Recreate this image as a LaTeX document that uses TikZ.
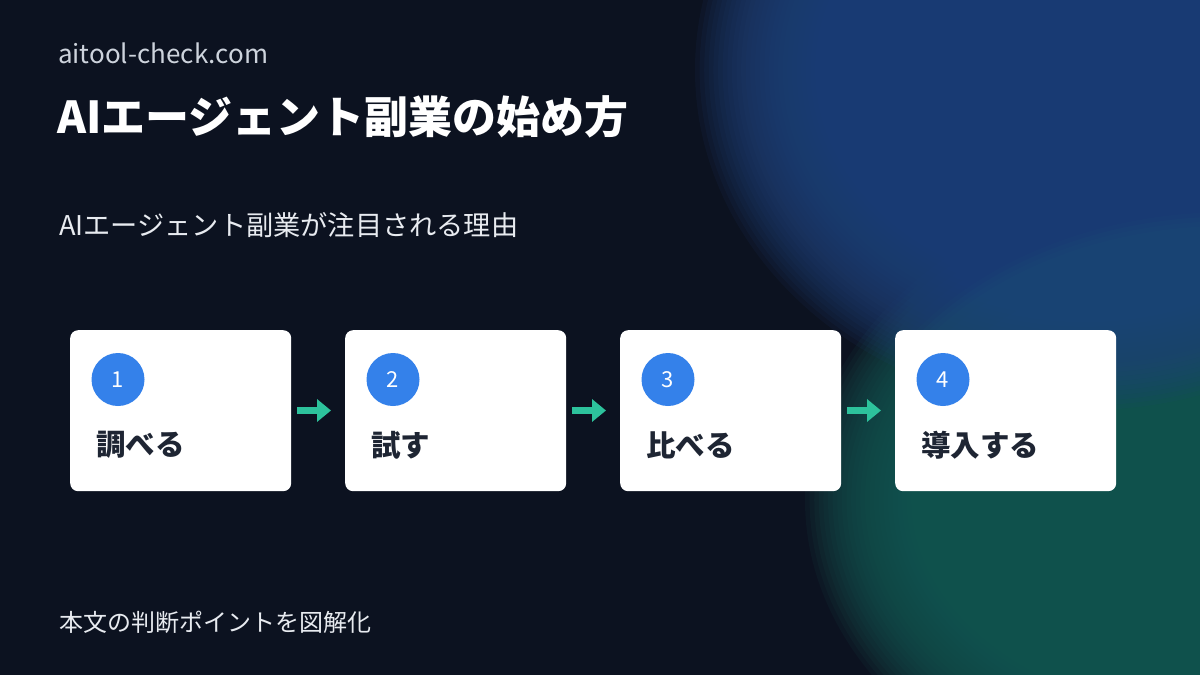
\documentclass[tikz,border=0pt]{standalone}
\usepackage{fontspec}
\setmainfont{Noto Sans CJK JP}
\usetikzlibrary{arrows.meta,positioning}
\definecolor{bg}{HTML}{0C1220}
\definecolor{blobblue}{HTML}{21437C}
\definecolor{blobgreen}{HTML}{185A55}
\definecolor{stepblue}{HTML}{3481EA}
\definecolor{arrowgreen}{HTML}{2DC29C}
\definecolor{labeldark}{HTML}{1E2533}
\definecolor{softgray}{HTML}{CDD3DC}
\definecolor{softwhite}{HTML}{E8EBF0}
\tikzset{
  card/.style={fill=white, rounded corners=8pt, minimum width=221pt, minimum height=161pt, inner sep=0pt},
  badge/.style={circle, fill=stepblue, minimum size=53pt, inner sep=0pt, text=white, font=\fontsize{22pt}{24pt}\selectfont},
  steplabel/.style={anchor=west, text=labeldark, font=\fontsize{29.5pt}{32pt}\selectfont\bfseries, inner sep=0pt},
  flow/.style={draw=arrowgreen, line width=7pt, -{Triangle[length=14pt,width=22pt]}},
  bloblayer/.style={fill=#1, opacity=0.1},
}
\begin{document}
\begin{tikzpicture}[x=1pt,y=-1pt]
\useasboundingbox (0,0) rectangle (1200,675);
\fill[bg] (0,0) rectangle (1200,675);
\begin{scope}
\clip (0,0) rectangle (1200,675);
\foreach \k in {0,...,39}{
  \pgfmathsetmacro\dd{45-180*\k/39}
  \pgfmathsetmacro\rx{380+\dd}
  \pgfmathsetmacro\ry{280+\dd}
  \fill[bloblayer=blobgreen] (1230,500) ellipse [x radius=\rx pt, y radius=\ry pt];
}
\foreach \k in {0,...,39}{
  \pgfmathsetmacro\dd{45-180*\k/39}
  \pgfmathsetmacro\rx{345+\dd}
  \pgfmathsetmacro\ry{295+\dd}
  \fill[bloblayer=blobblue] (1085,70) ellipse [x radius=\rx pt, y radius=\ry pt];
}
\end{scope}
\node[anchor=base west, inner sep=0pt, text=softgray, font=\fontsize{26pt}{28pt}\selectfont] (site) at (58,63) {aitool-check.com};
\node[anchor=base west, inner sep=0pt, text=white, font=\fontsize{44pt}{48pt}\selectfont\bfseries] (title) at (57,133) {AIエージェント副業の始め方};
\node[anchor=base west, inner sep=0pt, text=softwhite, font=\fontsize{27.2pt}{30pt}\selectfont] (sub) at (59,235) {AIエージェント副業が注目される理由};
\node[anchor=base west, inner sep=0pt, text=softwhite, font=\fontsize{24pt}{28pt}\selectfont] (foot) at (59,631) {本文の判断ポイントを図解化};
\foreach \i/\x/\t in {1/70/調べる,2/345/試す,3/620/比べる,4/895/導入する}{
  \node[card, anchor=north west] (c\i) at (\x,330) {};
  \node[badge] (b\i) at (\x+48,379.5) {\i};
  \node[steplabel] (l\i) at (\x+26,445) {\t};
}
\foreach \a/\b in {1/2,2/3,3/4}{
  \draw[flow, shorten <=6pt, shorten >=14pt] (c\a.east |- 0,410.5) -- (c\b.west |- 0,410.5);
}
\end{tikzpicture}
\end{document}
